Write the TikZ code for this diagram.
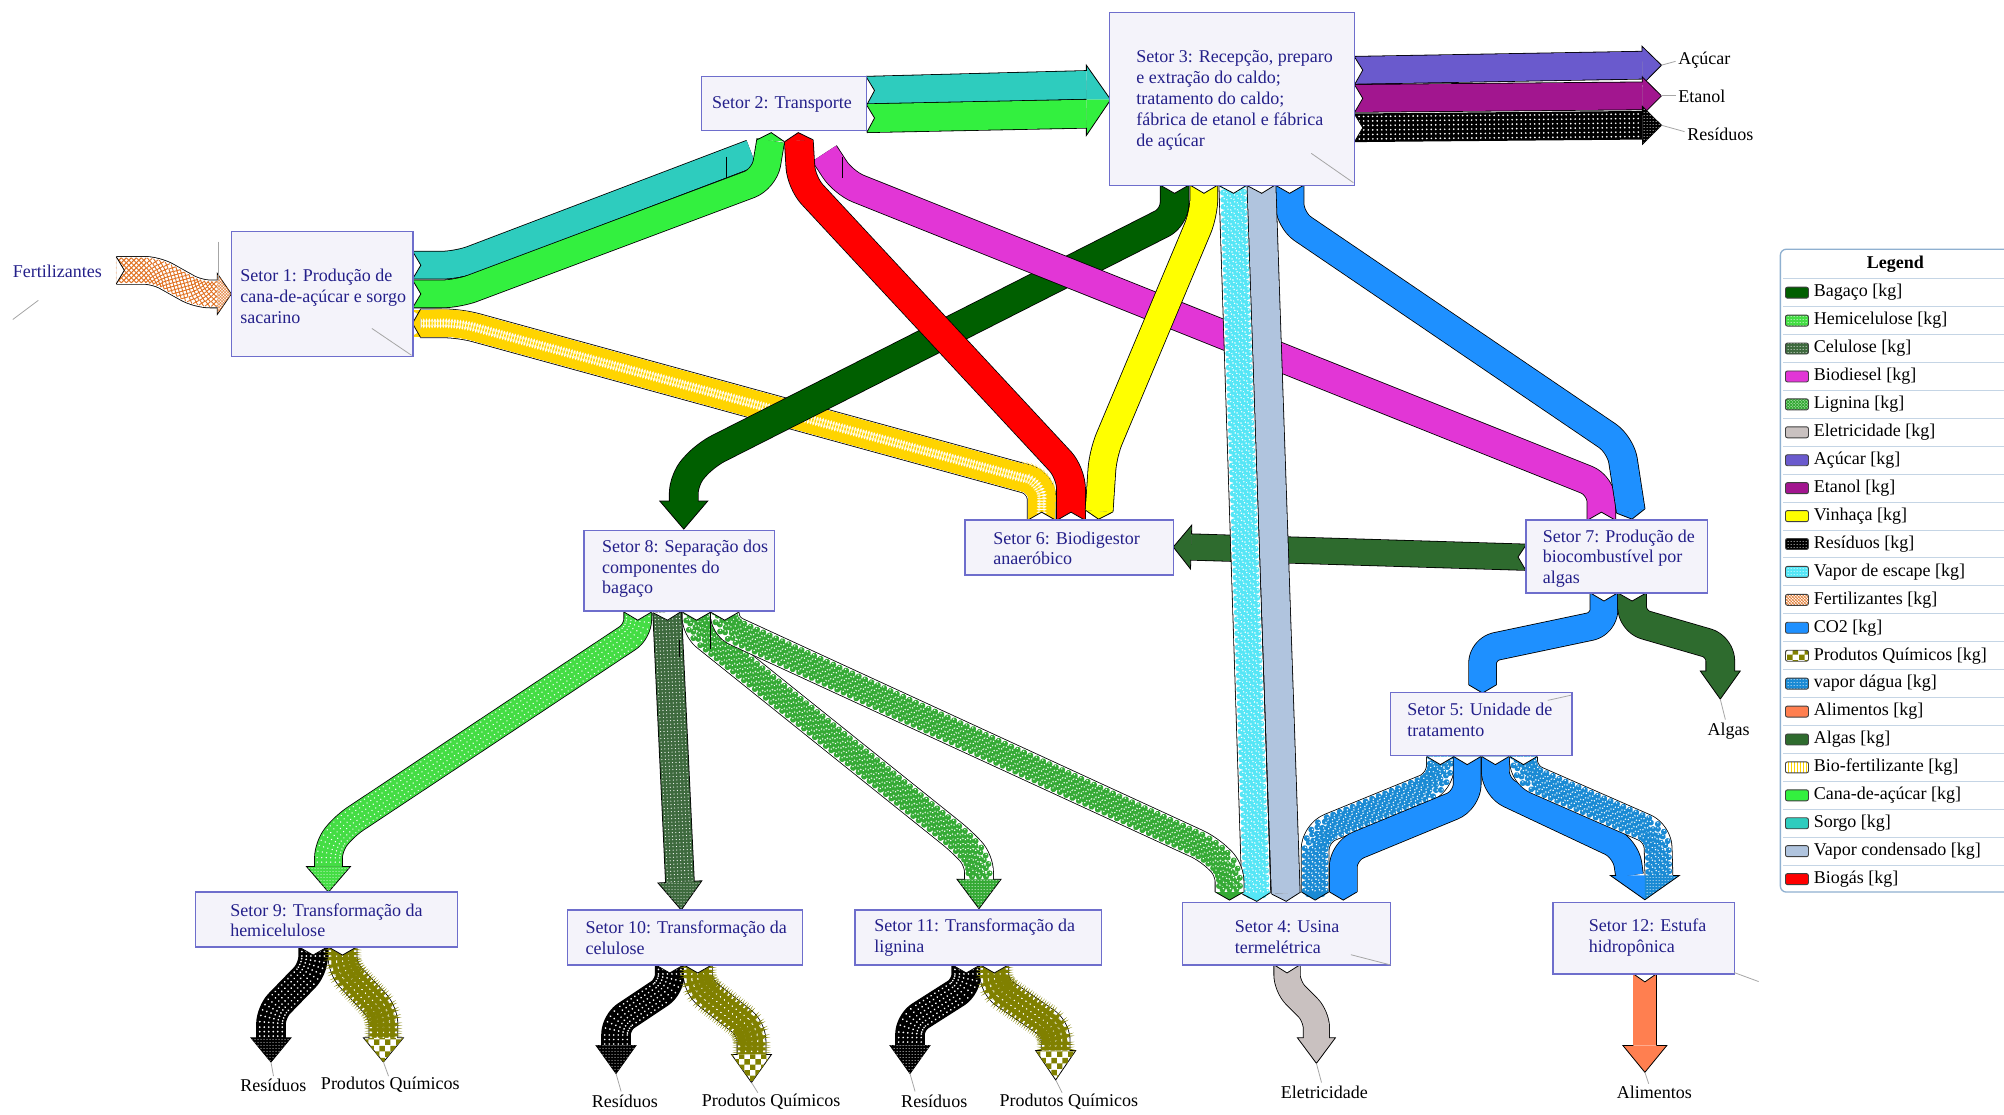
\documentclass[tikz,border=0pt]{standalone}
\usepackage{fontspec}
\setmainfont{Liberation Serif}
\usetikzlibrary{calc,decorations.markings,patterns,fit}
\definecolor{bagaco}{HTML}{005F00}
\definecolor{hemi}{HTML}{44DD44}
\definecolor{celu}{HTML}{3E6A3E}
\definecolor{biod}{HTML}{E236D6}
\definecolor{lign}{HTML}{35AA35}
\definecolor{eletr}{HTML}{C9C1C0}
\definecolor{acuc}{HTML}{6A5ACD}
\definecolor{etan}{HTML}{A2168F}
\definecolor{vinh}{HTML}{FFFF00}
\definecolor{vapesc}{HTML}{55E6F6}
\definecolor{fert}{HTML}{E07020}
\definecolor{co2}{HTML}{1E90FF}
\definecolor{quim}{HTML}{808000}
\definecolor{vapag}{HTML}{1A8AD4}
\definecolor{alim}{HTML}{FF7F50}
\definecolor{algas}{HTML}{2E6B2E}
\definecolor{biofy}{HTML}{FFD400}
\definecolor{cana}{HTML}{33F03F}
\definecolor{sorgo}{HTML}{2ECCBE}
\definecolor{vapcond}{HTML}{B0C4DE}
\definecolor{biog}{HTML}{FF0000}
\definecolor{boxfill}{HTML}{F4F3FA}
\definecolor{boxline}{HTML}{6E6ECC}
\definecolor{navy}{HTML}{24208A}
\definecolor{legline}{HTML}{C5D5E5}
\definecolor{legborder}{HTML}{8FB0D0}
\tikzset{
  band/.style 2 args={line width=0.8pt,double=#1,double distance=#2,line join=round},
  markpat/.style 2 args={postaction={decorate,decoration={markings,mark=between positions 0 and 1 step #1 with {#2}}}},
  dotpat/.style 2 args={markpat={4.5pt}{\foreach \k in {-11.25,-6.75,-2.25,2.25,6.75,11.25}{\fill[#1] (0pt,\k pt) circle (#2);}}},
  celpat/.style={markpat={3.5pt}{\foreach \k in {-12.25,-8.75,-5.25,-1.75,1.75,5.25,8.75,12.25}{\fill[white] (0pt,\k pt) circle (0.6pt);}}},
  bubpat/.style={markpat={7pt}{\foreach \k in {-10.5,-3.5,3.5,10.5}{\fill[#1] (0pt,\k pt) circle (3pt);\fill[white] (-0.9pt,\k pt+0.9pt) circle (0.8pt);}\foreach \k in {-7,0,7}{\fill[#1] (3.5pt,\k pt) circle (3pt);\fill[white] (2.6pt,\k pt+0.9pt) circle (0.8pt);}}},
  biopat/.style={markpat={2.8pt}{\fill[biofy] (0pt,-13.2pt) rectangle (1.6pt,13.2pt);}},
  quimpat/.style={markpat={5pt}{\foreach \k in {-11,-5,1,7}{\fill[quim] (0pt,\k pt) rectangle (3pt,\k pt+4pt);}}},
  fertpat/.style={markpat={5pt}{\foreach \k in {-12.5,-7.5,-2.5,2.5,7.5}{\draw[fert,line width=0.9pt] (0pt,\k pt) -- (5pt,\k pt+5pt) (0pt,\k pt+5pt) -- (5pt,\k pt);}}},
}
\newcommand\SBand[4]{\draw[band={#1}{#2},rounded corners=#3] #4;}
\newcommand\PBand[5]{\draw[band={#1}{#2},rounded corners=#3] #5; \path[rounded corners=#3,#4] #5;}
\newcommand\Notch[3]{\filldraw[fill=white,draw=black,line width=0.8pt,line join=miter] ($#1!#3!90:#2$) -- ($#1!8pt!#2$) -- ($#1!#3!-90:#2$);}
\newcommand\Tip[4]{\filldraw[#4,draw=black,line width=0.8pt,line join=miter] ($#2!#3!90:#1$) -- ($#2!8pt!180:#1$) -- ($#2!#3!-90:#1$);}
\newcommand\Arr[6]{\filldraw[#6,draw=black,line width=0.8pt,line join=miter] ($#2!#4!90:#1$) -- ($#2!#5!90:#1$) -- #3 -- ($#2!#5!-90:#1$) -- ($#2!#4!-90:#1$);}
\begin{document}
\begin{tikzpicture}[x=1.278pt,y=-1.278pt,
  box/.style={draw=boxline,line width=1.4pt,fill=boxfill,inner sep=0pt},
  txt/.style={font=\fontsize{18}{20.8}\selectfont,text=navy,align=left,inner sep=0pt,anchor=west},
  lab/.style={font=\fontsize{18}{20.8}\selectfont,text=black,inner sep=0pt,anchor=west},
  lead/.style={draw=black!35,line width=0.8pt},
  tick/.style={draw=black,line width=1pt},
  lsw/.style={draw=black!75,line width=0.9pt,rounded corners=2pt,minimum width=23pt,minimum height=11pt,inner sep=0pt},
  ltx/.style={font=\fontsize{18}{20.8}\selectfont,text=black,inner sep=0pt,anchor=west}]
\useasboundingbox (0,0) rectangle (1568,872);
\clip (0,0) rectangle (1568,872);
\fill[white] (0,0) rectangle (1568,872);

% ---------- Fertilizantes -> Setor 1
\PBand{white}{27pt}{12pt}{fertpat}{(91,211.5) -- (122,211.5) -- (155,230) -- (170,230)}
\Notch{(91,211.5)}{(110,211.5)}{13.5pt}
\Arr{(160,230)}{(170,230)}{(181,230)}{13.5pt}{20.5pt}{fill=white,postaction={pattern=crosshatch,pattern color=fert}}

% ---------- Setor 1 -> Setor 2 (sorgo, cana)
\SBand{sorgo}{27pt}{16pt}{(323,207.5) -- (358,207.5) -- (588,120)}
\Notch{(323,207.5)}{(340,207.5)}{13.5pt}
\SBand{cana}{27pt}{16pt}{(323,230) -- (358,230) -- (598,140) -- (603,110)}
\Notch{(323,230)}{(340,230)}{13.5pt}
\Tip{(602,125)}{(603,110)}{13.5pt}{fill=cana}

% ---------- Setor 6 -> Setor 1 (bio-fertilizante)
\PBand{white}{28pt}{16pt}{biopat}{(815,407) -- (815,378) -- (360,253) -- (329,253)}
\Notch{(815,407)}{(815,390)}{14pt}
\Tip{(345,253)}{(329,253)}{14pt}{fill=biofy}

% ---------- Setor 3 -> Setor 8 (bagaco)
\SBand{bagaco}{28pt}{14pt}{(919,145) -- (919,170) -- (552,356) -- (535,375) -- (535,392)}
\Notch{(919,145)}{(919,160)}{14pt}
\Arr{(535,380)}{(535,392)}{(535,414)}{14pt}{24pt}{fill=bagaco}

% ---------- Setor 7 -> Setor 2 (biodiesel)
\SBand{biod}{28pt}{16pt}{(1253,407) -- (1253,380) -- (660,143) -- (645,120)}
\Notch{(1253,407)}{(1253,390)}{14pt}
\draw[tick] (659,123) -- (659,139);

% ---------- Setor 6 -> Setor 2 (biogas)
\SBand{biog}{28pt}{16pt}{(838,407) -- (838,370) -- (627,143) -- (625,110)}
\Notch{(838,407)}{(838,390)}{14pt}
\Tip{(626,125)}{(625,110)}{14pt}{fill=biog}
\draw[tick] (568.5,122.6) -- (568.5,139);

% ---------- Setor 3 -> Setor 6 (vinhaca)
\SBand{vinh}{27pt}{16pt}{(942,145) -- (942,167) -- (863,355) -- (860,400)}
\Notch{(942,145)}{(942,160)}{13.5pt}
\Tip{(861.5,377)}{(860,400)}{13.5pt}{fill=vinh}

% ---------- Setor 3 -> Setor 7 (CO2)
\SBand{co2}{28pt}{16pt}{(1009,145) -- (1009,172) -- (1268,348) -- (1276,400)}
\Notch{(1009,145)}{(1009,160)}{14pt}
\Tip{(1272,374)}{(1276,400)}{14pt}{fill=co2}

% ---------- Setor 7 -> Setor 6 (algas)
\SBand{algas}{25.5pt}{1pt}{(1194,436) -- (932,428)}
\Notch{(1194,436)}{(1180,435.6)}{12.75pt}
\Arr{(1000,430)}{(932,428)}{(918,428)}{12.75pt}{22pt}{fill=algas}

% ---------- Setor 3 -> Setor 4 (vapor de escape, vapor condensado)
\PBand{white}{28pt}{1pt}{bubpat=vapesc}{(965,145) -- (983,699)}
\Notch{(965,145)}{(965.5,160)}{14pt}
\Tip{(982,680)}{(983,699)}{14pt}{fill=vapesc}
\SBand{vapcond}{28pt}{1pt}{(987,145) -- (1006,699)}
\Notch{(987,145)}{(987.5,160)}{14pt}
\Tip{(1005,680)}{(1006,699)}{14pt}{fill=vapcond}

% ---------- Setor 2 -> Setor 3
\SBand{sorgo}{28pt}{1pt}{(678,71) -- (850,66.5)}
\SBand{cana}{28pt}{1pt}{(678,92.5) -- (850,89)}
\Notch{(678,71)}{(690,70.7)}{14pt}
\Notch{(678,92.5)}{(690,92.2)}{14pt}
\fill[sorgo] (850,51) -- (869,78) -- (850,78) -- cycle;
\fill[cana] (850,78) -- (869,78) -- (850,106) -- cycle;
\draw[black,line width=0.8pt,line join=miter] (850,55.5) -- (850,51) -- (869,78) -- (850,106) -- (850,100);

% ---------- Setor 3 -> products
\SBand{acuc}{27pt}{1pt}{(1060,55) -- (1285,51)}
\Notch{(1060,55)}{(1075,54.7)}{13.5pt}
\Arr{(1270,51.3)}{(1285,51)}{(1300,51)}{13.5pt}{19pt}{fill=acuc}
\SBand{etan}{27pt}{1pt}{(1060,77) -- (1285,75)}
\Notch{(1060,77)}{(1075,76.9)}{13.5pt}
\Arr{(1270,75.1)}{(1285,75)}{(1300,75)}{13.5pt}{19pt}{fill=etan}
\PBand{black}{27pt}{1pt}{dotpat={white}{0.95pt}}{(1060,100) -- (1285,98)}
\Notch{(1060,100)}{(1075,99.9)}{13.5pt}
\Arr{(1270,98.1)}{(1285,98)}{(1300,98)}{13.5pt}{19pt}{fill=black,postaction={pattern=dots,pattern color=white}}

% ---------- Setor 8 outputs
\PBand{hemi}{27pt}{12pt}{dotpat={white}{0.75pt}}{(499,479) -- (499,494) -- (270,646) -- (257,662) -- (257,678)}
\Notch{(499,479)}{(499,490)}{13.5pt}
\Arr{(257,670)}{(257,678)}{(257,698)}{13.5pt}{22pt}{fill=hemi,postaction={pattern=dots,pattern color=white}}
\PBand{celu}{28pt}{1pt}{celpat}{(522,479) -- (532,690)}
\Notch{(522,479)}{(522.5,490)}{14pt}
\Arr{(531.5,680)}{(532,690)}{(533,712)}{14pt}{22pt}{fill=celu,postaction={pattern=dots,pattern color=white}}
\PBand{white}{28pt}{12pt}{bubpat=lign}{(545,479) -- (545,492) -- (752,658) -- (766,673) -- (766,688)}
\Notch{(545,479)}{(545,490)}{14pt}
\Arr{(766,680)}{(766,688)}{(766,711)}{14pt}{22pt}{fill=lign,postaction={pattern=dots,pattern color=white}}
\PBand{white}{28pt}{12pt}{bubpat=lign}{(567,479) -- (567,490) -- (945,664) -- (962,680) -- (962,698)}
\Notch{(567,479)}{(567,490)}{14pt}
\Tip{(962,690)}{(962,698)}{14pt}{fill=lign}
\draw[tick] (556,471) -- (556,508);
\draw[tick] (532,501) -- (532,514);

% ---------- Setor 7 outputs
\SBand{co2}{27pt}{14pt}{(1255,464) -- (1255,488) -- (1160,508) -- (1160,536)}
\Notch{(1255,464)}{(1255,480)}{13.5pt}
\Tip{(1160,525)}{(1160,536)}{13.5pt}{fill=co2}
\SBand{algas}{28pt}{14pt}{(1277,464) -- (1277,486) -- (1346,506) -- (1346,525)}
\Notch{(1277,464)}{(1277,480)}{14pt}
\Arr{(1346,515)}{(1346,525)}{(1346,547)}{14pt}{20pt}{fill=algas}

% ---------- Setor 5 outputs
\PBand{white}{27pt}{16pt}{bubpat=vapag}{(1127,592) -- (1127,612) -- (1029,652) -- (1029,698)}
\Notch{(1127,592)}{(1127,605)}{13.5pt}
\Tip{(1029,690)}{(1029,698)}{13.5pt}{fill=vapag}
\SBand{co2}{27pt}{16pt}{(1148,592) -- (1148,626) -- (1051,666) -- (1051,698)}
\Notch{(1148,592)}{(1148,605)}{13.5pt}
\Tip{(1051,690)}{(1051,698)}{13.5pt}{fill=co2}
\SBand{co2}{27pt}{16pt}{(1170,592) -- (1170,616) -- (1272,664) -- (1275,685)}
\Notch{(1170,592)}{(1170,605)}{13.5pt}
\PBand{white}{27pt}{14pt}{bubpat=vapag}{(1192,592) -- (1192,606) -- (1297,652) -- (1298,685)}
\Notch{(1192,592)}{(1192,605)}{13.5pt}
\fill[co2] (1260,685) -- (1287,685) -- (1287,704) -- cycle;
\fill[vapag] (1287,685) -- (1314,685) -- (1287,704) -- cycle;
\fill[pattern=dots,pattern color=white] (1287,685) -- (1314,685) -- (1287,704) -- cycle;
\draw[black,line width=0.8pt,line join=miter] (1264.5,685) -- (1260,685) -- (1287,704) -- (1314,685) -- (1309,685);

% ---------- Setor 9, 10, 11 outputs
\PBand{black}{28pt}{12pt}{dotpat={white}{0.95pt}}{(245,741) -- (245,758) -- (212,792) -- (212,812)}
\Notch{(245,741)}{(245,752)}{14pt}
\Arr{(212,805)}{(212,812)}{(212,831)}{14pt}{20pt}{fill=black,postaction={pattern=dots,pattern color=white}}
\PBand{white}{28pt}{12pt}{quimpat}{(268,741) -- (268,758) -- (300,792) -- (300,812)}
\Notch{(268,741)}{(268,752)}{14pt}
\Arr{(300,805)}{(300,812)}{(300,831)}{14pt}{20pt}{fill=white,postaction={pattern=checkerboard,pattern color=quim}}

\PBand{black}{28pt}{12pt}{dotpat={white}{0.95pt}}{(524,755) -- (524,772) -- (482,800) -- (482,818)}
\Notch{(524,755)}{(524,766)}{14pt}
\Arr{(482,810)}{(482,818)}{(482,840)}{14pt}{20pt}{fill=black,postaction={pattern=dots,pattern color=white}}
\PBand{white}{28pt}{12pt}{quimpat}{(546,755) -- (546,772) -- (588,805) -- (588,825)}
\Notch{(546,755)}{(546,766)}{14pt}
\Arr{(588,815)}{(588,825)}{(588,847)}{14pt}{20pt}{fill=white,postaction={pattern=checkerboard,pattern color=quim}}

\PBand{black}{28pt}{12pt}{dotpat={white}{0.95pt}}{(756,755) -- (756,772) -- (712,800) -- (712,818)}
\Notch{(756,755)}{(756,766)}{14pt}
\Arr{(712,810)}{(712,818)}{(712,840)}{14pt}{20pt}{fill=black,postaction={pattern=dots,pattern color=white}}
\PBand{white}{28pt}{12pt}{quimpat}{(778,755) -- (778,772) -- (826,805) -- (826,822)}
\Notch{(778,755)}{(778,766)}{14pt}
\Arr{(826,815)}{(826,822)}{(826,845)}{14pt}{20pt}{fill=white,postaction={pattern=checkerboard,pattern color=quim}}

% ---------- Setor 4 -> Eletricidade, Setor 12 -> Alimentos
\SBand{eletr}{25.5pt}{12pt}{(1007,755) -- (1007,772) -- (1030,795) -- (1030,812)}
\Notch{(1007,755)}{(1007,765)}{12.75pt}
\Arr{(1030,805)}{(1030,812)}{(1030,832)}{12.75pt}{19pt}{fill=eletr}
\SBand{alim}{23pt}{1pt}{(1287,762) -- (1287,818)}
\Notch{(1287,762)}{(1287,775)}{11.5pt}
\Arr{(1287,805)}{(1287,818)}{(1287,839)}{11.5pt}{22pt}{fill=alim}

% ---------- boxes
\node[box,fit={(181,181) (323,279)}] (s1) {};
\node[box,fit={(549,60) (678,102)}] (s2) {};
\node[box,fit={(868,10) (1060,145)}] (s3) {};
\node[box,fit={(457,415) (606,478)}] (s8) {};
\node[box,fit={(755,407) (918,450)}] (s6) {};
\node[box,fit={(1194,407) (1336,464)}] (s7) {};
\node[box,fit={(1088,542) (1230,591)}] (s5) {};
\node[box,fit={(153,698) (358,741)}] (s9) {};
\node[box,fit={(444,712) (628,755)}] (s10) {};
\node[box,fit={(669,712) (862,755)}] (s11) {};
\node[box,fit={(925,706) (1088,755)}] (s4) {};
\node[box,fit={(1215,706) (1357,762)}] (s12) {};

\node[txt] (t1) at (188,232) {Setor 1: Produção de\\cana-de-açúcar e sorgo\\sacarino};
\node[txt] (t2) at (557,82) {Setor 2: Transporte};
\node[txt] (t3) at (889,78.5) {Setor 3: Recepção, preparo\\e extração do caldo;\\tratamento do caldo;\\fábrica de etanol e fábrica\\de açúcar};
\node[txt] (t8) at (471,445) {Setor 8: Separação dos\\componentes do\\bagaço};
\node[txt] (t6) at (777,429) {Setor 6: Biodigestor\\anaeróbico};
\node[txt] (t7) at (1207,437) {Setor 7: Produção de\\biocombustível por\\algas};
\node[txt] (t5) at (1101,563.5) {Setor 5: Unidade de\\tratamento};
\node[txt] (t9) at (180,720) {Setor 9: Transformação da\\hemicelulose};
\node[txt] (t10) at (458,733.5) {Setor 10: Transformação da\\celulose};
\node[txt] (t11) at (684,733.5) {Setor 11: Transformação da\\lignina};
\node[txt] (t4) at (966,733.5) {Setor 4: Usina\\termelétrica};
\node[txt] (t12) at (1243,733.5) {Setor 12: Estufa\\hidropônica};

% grey anchor lines inside / near boxes
\draw[lead] (291,257) -- (322,278);
\draw[lead] (171,189) -- (171,219);
\draw[lead] (10,250) -- (30,235);
\draw[lead] (1026,120) -- (1059,143);
\draw[lead] (1057,747) -- (1088,755);
\draw[lead] (1357,761) -- (1376,768);
\draw[lead] (1211,548) -- (1229,544);

% ---------- outside labels
\node[lab,text=navy] (lfert) at (10,212) {Fertilizantes};
\node[lab] (lacu) at (1313,47) {Açúcar};
\node[lab] (leta) at (1313,75) {Etanol};
\node[lab] (lres) at (1320,105) {Resíduos};
\node[lab] (lalg) at (1336,572) {Algas};
\node[lab] (lr9) at (188,849) {Resíduos};
\node[lab] (lq9) at (251,849) {Produtos Químicos};
\node[lab] (lr10) at (463,862) {Resíduos};
\node[lab] (lq10) at (549,862) {Produtos Químicos};
\node[lab] (lr11) at (705,862) {Resíduos};
\node[lab] (lq11) at (782,862) {Produtos Químicos};
\node[lab] (lele) at (1002,855) {Eletricidade};
\node[lab] (lali) at (1265,855) {Alimentos};
\draw[lead] (1300,51) -- (1311,48);
\draw[lead] (1300,75) -- (1311,75);
\draw[lead] (1300,98) -- (1318,103);
\draw[lead] (1346,547) -- (1350,563);
\draw[lead] (212,831) -- (214,842);
\draw[lead] (300,831) -- (304,842);
\draw[lead] (482,840) -- (486,854);
\draw[lead] (588,847) -- (593,855);
\draw[lead] (712,840) -- (716,854);
\draw[lead] (826,845) -- (831,855);
\draw[lead] (1030,832) -- (1034,847);
\draw[lead] (1287,839) -- (1290,848);

% ---------- legend
\node[draw=legborder,line width=1.3pt,fill=white,rounded corners=6pt,inner sep=0pt,fit={(1393,195) (1620,698)}] (leg) {};
\node[font=\bfseries\fontsize{18}{20.8}\selectfont,inner sep=0pt] (legt) at (1483,207) {Legend};
\foreach \i in {0,...,21} \draw[legline,line width=0.8pt] (1395,{218+21.85*\i}) -- (1620,{218+21.85*\i});
\newcommand\LegRow[3]{\node[lsw,#2] (lgs#1) at (1406,{229+21.85*#1}) {}; \node[ltx] (lgt#1) at (1419,{229+21.85*#1}) {#3};}
\LegRow{0}{fill=bagaco}{Bagaço [kg]}
\LegRow{1}{preaction={fill=hemi},pattern=dots,pattern color=white}{Hemicelulose [kg]}
\LegRow{2}{preaction={fill=celu},pattern=dots,pattern color=white}{Celulose [kg]}
\LegRow{3}{fill=biod}{Biodiesel [kg]}
\LegRow{4}{preaction={fill=lign},pattern=crosshatch dots,pattern color=white}{Lignina [kg]}
\LegRow{5}{fill=eletr}{Eletricidade [kg]}
\LegRow{6}{fill=acuc}{Açúcar [kg]}
\LegRow{7}{fill=etan}{Etanol [kg]}
\LegRow{8}{fill=vinh}{Vinhaça [kg]}
\LegRow{9}{preaction={fill=black},pattern=dots,pattern color=white}{Resíduos [kg]}
\LegRow{10}{preaction={fill=vapesc},pattern=dots,pattern color=white}{Vapor de escape [kg]}
\LegRow{11}{preaction={fill=white},pattern=crosshatch,pattern color=fert}{Fertilizantes [kg]}
\LegRow{12}{fill=co2}{CO2 [kg]}
\LegRow{13}{preaction={fill=white},pattern=checkerboard,pattern color=quim}{Produtos Químicos [kg]}
\LegRow{14}{preaction={fill=vapag},pattern=dots,pattern color=white}{vapor dágua [kg]}
\LegRow{15}{fill=alim}{Alimentos [kg]}
\LegRow{16}{fill=algas}{Algas [kg]}
\LegRow{17}{preaction={fill=white},pattern=vertical lines,pattern color=biofy}{Bio-fertilizante [kg]}
\LegRow{18}{fill=cana}{Cana-de-açúcar [kg]}
\LegRow{19}{fill=sorgo}{Sorgo [kg]}
\LegRow{20}{fill=vapcond}{Vapor condensado [kg]}
\LegRow{21}{fill=biog}{Biogás [kg]}
\end{tikzpicture}
\end{document}
